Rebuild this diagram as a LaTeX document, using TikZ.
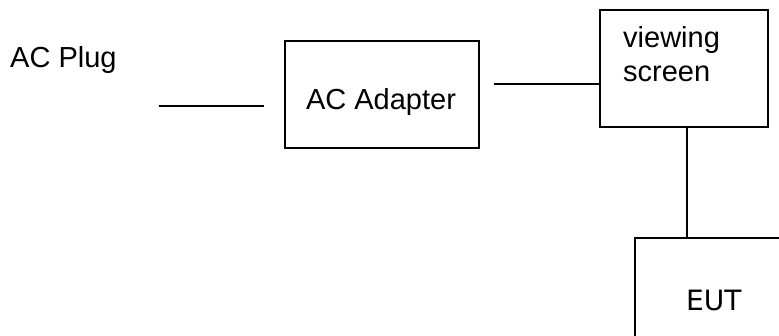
\documentclass[tikz,border=0pt]{standalone}
\usepackage{fontspec}
\setmainfont{Liberation Sans}
\newfontfamily\dejavu{DejaVu Sans}
\begin{document}
\begin{tikzpicture}[x=1pt,y=-1pt,
  box/.style={draw=black,line width=1.9pt,rectangle,inner sep=0pt},
  wire/.style={draw=black,line width=1.9pt},
  txt/.style={inner sep=0pt,font=\fontsize{29}{35}\selectfont}]
\useasboundingbox (0,0) rectangle (779,336);
\clip (0,0) rectangle (779,336);
\fill[white] (0,0) rectangle (779,336);
% boxes
\node[box,minimum width=194pt,minimum height=107pt] (adapter) at (382,94.5) {};
\node[box,minimum width=168pt,minimum height=117pt] (screen) at (684,68.5) {};
\node[box,minimum width=170pt,minimum height=140pt] (eut) at (720,308) {};
% texts
\node[txt,anchor=base west] (plug) at (10,68) {AC Plug};
\node[txt,anchor=base] (adaptertext) at (381,110) {AC Adapter};
\node[txt,anchor=base west] (screentext1) at (623,48) {viewing};
\node[txt,anchor=base west] (screentext2) at (623,82) {screen};
\node[txt,anchor=base west,font=\dejavu\fontsize{28}{34}\selectfont] (euttext) at (686,311) {EUT};
% connectors
\coordinate (p1) at (159,106);
\coordinate (p2) at (264,106);
\draw[wire] (p1) -- (p2);
\coordinate (a1) at (494,84);
\draw[wire] (a1) -- (a1 -| screen.west);
\coordinate (vx) at (687,0);
\draw[wire] (screen.south -| vx) -- (eut.north -| vx);
\end{tikzpicture}
\end{document}
